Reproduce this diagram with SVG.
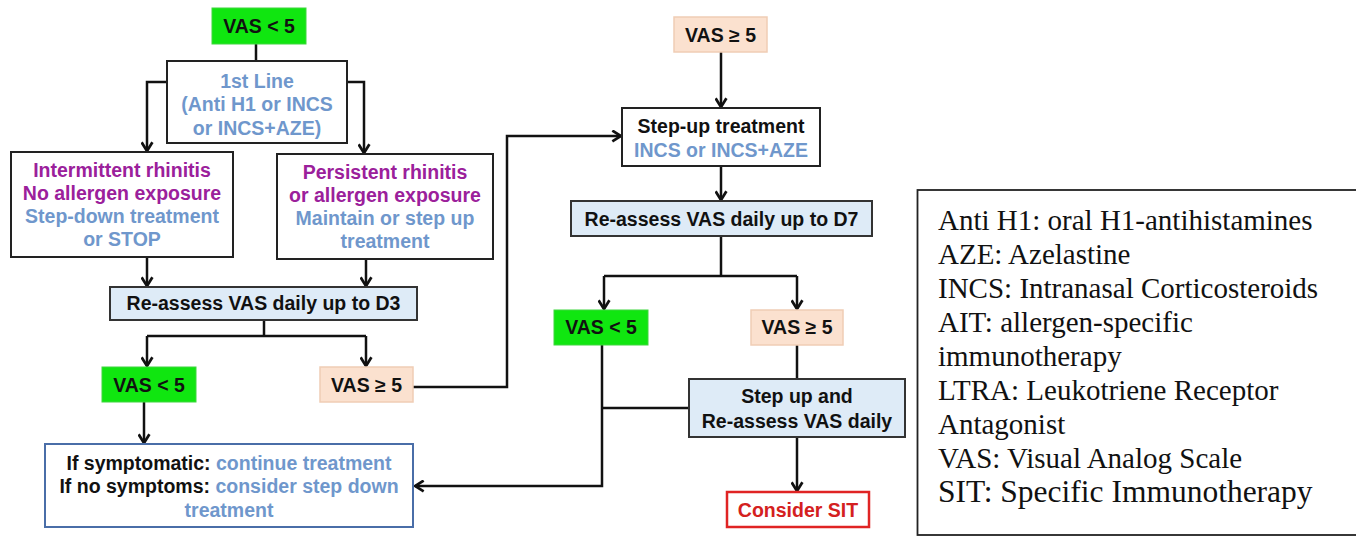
<svg xmlns="http://www.w3.org/2000/svg" width="1356" height="536" viewBox="0 0 1356 536">
<style>
  .t { font-family: "Liberation Sans", Arial, sans-serif; font-weight: bold; font-size: 19.5px; text-anchor: middle; fill: #111; }
  .pu { fill: #9b209b; }
  .bl { fill: #6f97cc; }
  .red { fill: #d42020; }
  .box { fill: #fff; stroke: #222; stroke-width: 2; }
  .re { fill: #deebf7; stroke: #333; stroke-width: 2; }
  .green { fill: #10e610; stroke: #3fd63f; stroke-width: 1; }
  .peach { fill: #fbe1cf; stroke: #f0cdb5; stroke-width: 1.5; }
  .c { fill: none; stroke: #111; stroke-width: 2.5; }
  .leg { font-family: "Liberation Serif", "Times New Roman", serif; font-size: 29px; fill: #111; }
</style>
<defs>
  <marker id="ah" viewBox="0 0 12 12" refX="10" refY="6" markerWidth="13" markerHeight="13" markerUnits="userSpaceOnUse" orient="auto">
    <path d="M2,1 L10,6 L2,11" fill="none" stroke="#111" stroke-width="2.5"/>
  </marker>
</defs>
<rect width="1356" height="536" fill="#fff"/>

<g id="connectors">
  <path class="c" d="M256,44 V61"/>
  <path class="c" d="M167,82 H147 V151" marker-end="url(#ah)"/>
  <path class="c" d="M347,82 H364 V153" marker-end="url(#ah)"/>
  <path class="c" d="M147,257 V286" marker-end="url(#ah)"/>
  <path class="c" d="M366,259 V286" marker-end="url(#ah)"/>
  <path class="c" d="M264,320 V336"/>
  <path class="c" d="M147,336 H366"/>
  <path class="c" d="M147,336 V366" marker-end="url(#ah)"/>
  <path class="c" d="M366,336 V366" marker-end="url(#ah)"/>
  <path class="c" d="M144,402 V443" marker-end="url(#ah)"/>
  <path class="c" d="M413,387 H507 V136 H621" marker-end="url(#ah)"/>
  <path class="c" d="M721,52 V107" marker-end="url(#ah)"/>
  <path class="c" d="M721,166 V200" marker-end="url(#ah)"/>
  <path class="c" d="M721,236 V276"/>
  <path class="c" d="M604,276 H797"/>
  <path class="c" d="M604,276 V309" marker-end="url(#ah)"/>
  <path class="c" d="M797,276 V309" marker-end="url(#ah)"/>
  <path class="c" d="M602,345 V486 H415" marker-end="url(#ah)"/>
  <path class="c" d="M602,408 H689"/>
  <path class="c" d="M797,345 V379"/>
  <path class="c" d="M797,437 V491" marker-end="url(#ah)"/>
</g>

<g id="vas-lt5-top">
  <rect class="green" x="212" y="8" width="94" height="36"/>
  <text class="t" x="259" y="33">VAS &lt; 5</text>
</g>
<g id="first-line">
  <rect class="box" x="167" y="61" width="180" height="82"/>
  <text class="t bl" x="257" y="88">1st Line</text>
  <text class="t bl" x="257" y="111">(Anti H1 or INCS</text>
  <text class="t bl" x="257" y="135">or INCS+AZE)</text>
</g>
<g id="intermittent">
  <rect class="box" x="11" y="152" width="222" height="105"/>
  <text class="t pu" x="122" y="177">Intermittent rhinitis</text>
  <text class="t pu" x="122" y="200">No allergen exposure</text>
  <text class="t bl" x="122" y="223">Step-down treatment</text>
  <text class="t bl" x="122" y="246">or STOP</text>
</g>
<g id="persistent">
  <rect class="box" x="277" y="154" width="216" height="105"/>
  <text class="t pu" x="385" y="179">Persistent rhinitis</text>
  <text class="t pu" x="385" y="202">or allergen exposure</text>
  <text class="t bl" x="385" y="225">Maintain or step up</text>
  <text class="t bl" x="385" y="248">treatment</text>
</g>
<g id="reassess-d3">
  <rect class="re" x="110" y="287" width="307" height="33"/>
  <text class="t" x="263.5" y="310">Re-assess VAS daily up to D3</text>
</g>
<g id="vas-lt5-mid">
  <rect class="green" x="102" y="367" width="94" height="35"/>
  <text class="t" x="149" y="392">VAS &lt; 5</text>
</g>
<g id="vas-ge5-mid">
  <rect class="peach" x="320" y="367" width="93" height="35"/>
  <text class="t" x="366.5" y="392">VAS ≥ 5</text>
</g>
<g id="outcome">
  <rect x="45" y="444" width="368" height="83" fill="#fff" stroke="#4a6ea8" stroke-width="2"/>
  <text class="t" x="229" y="470">If symptomatic: <tspan class="bl">continue treatment</tspan></text>
  <text class="t" x="229" y="493">If no symptoms: <tspan class="bl">consider step down</tspan></text>
  <text class="t bl" x="229" y="517">treatment</text>
</g>
<g id="vas-ge5-top">
  <rect class="peach" x="674" y="17" width="93" height="35"/>
  <text class="t" x="720.5" y="42">VAS ≥ 5</text>
</g>
<g id="step-up">
  <rect class="box" x="622" y="108" width="198" height="58"/>
  <text class="t" x="721" y="133">Step-up treatment</text>
  <text class="t bl" x="721" y="157">INCS or INCS+AZE</text>
</g>
<g id="reassess-d7">
  <rect class="re" x="571" y="201" width="301" height="35"/>
  <text class="t" x="721.5" y="226">Re-assess VAS daily up to D7</text>
</g>
<g id="vas-lt5-right">
  <rect class="green" x="554" y="310" width="94" height="35"/>
  <text class="t" x="601" y="334">VAS &lt; 5</text>
</g>
<g id="vas-ge5-right">
  <rect class="peach" x="751" y="310" width="92" height="35"/>
  <text class="t" x="797" y="334">VAS ≥ 5</text>
</g>
<g id="step-up-reassess">
  <rect class="re" x="689" y="379" width="216" height="58"/>
  <text class="t" x="797" y="403">Step up and</text>
  <text class="t" x="797" y="428">Re-assess VAS daily</text>
</g>
<g id="consider-sit">
  <rect x="727" y="492" width="142" height="35" fill="#fff" stroke="#e02424" stroke-width="2.5"/>
  <text class="t red" x="798" y="517">Consider SIT</text>
</g>

<g id="legend">
  <rect x="917.5" y="190" width="450" height="345" fill="#fff" stroke="#222" stroke-width="1.8"/>
  <text class="leg" x="938" y="230">Anti H1: oral H1-antihistamines</text>
  <text class="leg" x="938" y="264">AZE: Azelastine</text>
  <text class="leg" x="938" y="298">INCS: Intranasal Corticosteroids</text>
  <text class="leg" x="938" y="332">AIT: allergen-specific</text>
  <text class="leg" x="938" y="366">immunotherapy</text>
  <text class="leg" x="938" y="400">LTRA: Leukotriene Receptor</text>
  <text class="leg" x="938" y="434">Antagonist</text>
  <text class="leg" x="938" y="468">VAS: Visual Analog Scale</text>
  <text class="leg" x="938" y="502" style="font-size:31.5px">SIT: Specific Immunotherapy</text>
</g>
</svg>
